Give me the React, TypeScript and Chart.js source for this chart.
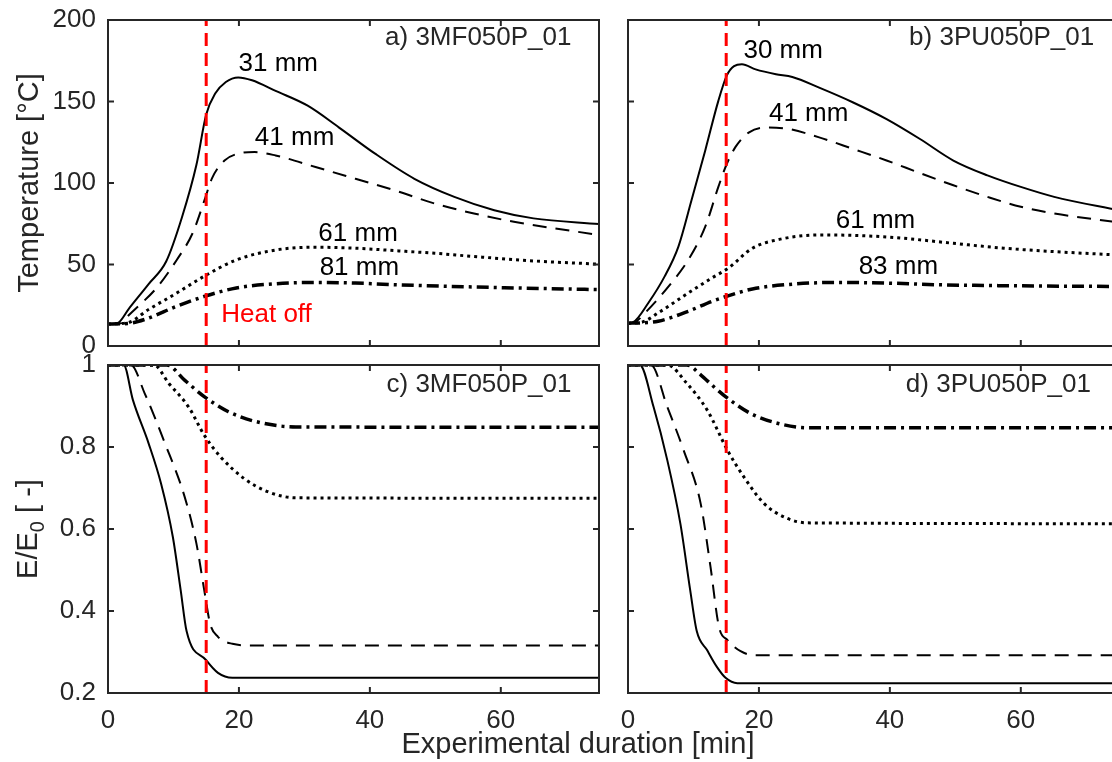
import React, { useEffect, useRef } from "react";
import { Chart, registerables } from "chart.js";

Chart.register(...registerables);

const FONT = "'Liberation Sans', Arial, Helvetica, sans-serif";
const INK = "#262626";
const RED = "#ff0000";
const W = 1130;
const H = 762;
const TICK = 6;
const Y_AXIS_W = 100;
const X_AXIS_H = 60;

// ---------- axes ----------
const X_MAX = 75;
const HEAT_OFF_MIN = 15;
const xTickValues = [0, 20, 40, 60];
const tempTickValues = [0, 50, 100, 150, 200];
const ratioTickValues = [0.2, 0.4, 0.6, 0.8, 1];

// ---------- a) 3MF050P_01 temperature ----------
const aT31 = [0, 1.5, 3.2, 6.2, 8.9, 11.3, 13.5, 15, 16.4, 18, 19.9, 22, 25.6, 30.5, 35.3, 40.8, 46.8, 52.9, 59, 65, 75];
const aV31 = [13.5, 14.2, 23, 38, 52, 79, 111, 142, 155, 162, 164.8, 163, 156.5, 147.4, 134, 118, 102.6, 91.5, 83.3, 78.3, 74.8];
const aT41 = [0, 2, 3.2, 7.5, 10.5, 12.9, 14.7, 15.9, 17.8, 20.2, 22.4, 25.6, 31.7, 37.8, 43.8, 49.9, 55.9, 62, 75];
const aV41 = [13.5, 14, 19, 36, 52.8, 69, 89, 103, 113.8, 118.3, 119, 116.9, 109.8, 102.6, 95.5, 87.4, 81.3, 76.2, 68.1];
const aT61 = [0, 3, 6.2, 10.5, 14.7, 19.6, 25.6, 31.7, 37.8, 43.8, 49.9, 55.9, 65, 75];
const aV61 = [13.5, 14.3, 22.4, 32.5, 42.8, 52.8, 58.9, 60.6, 60, 58.5, 56.9, 54.9, 52.2, 50.2];
const aT81 = [0, 3, 5.6, 10.5, 14.7, 19.6, 25.6, 31.7, 37.8, 43.8, 55.9, 75];
const aV81 = [13.5, 13.8, 16.3, 24.4, 30.4, 35.6, 38.2, 39, 38.6, 37.6, 36.2, 34.6];

// ---------- b) 3PU050P_01 temperature ----------
const bT30 = [0, 0.8, 3.1, 5.6, 7.7, 9.7, 11.8, 13.8, 15.1, 16.2, 17.4, 19.5, 22.6, 25.1, 29.2, 34.4, 39.5, 44.6, 49.7, 54.9, 60, 65.1, 75];
const bV30 = [14, 14.6, 26.4, 42.7, 61, 89.4, 120, 150.4, 166, 171.7, 172.8, 169.7, 166.7, 165, 158.5, 149.4, 139.2, 127, 113.8, 104.7, 97.6, 91.5, 83.2];
const bT41 = [0, 1, 2.6, 6.2, 9.2, 11.8, 13.8, 15.1, 16.4, 18.5, 21.5, 24.6, 29.2, 34.4, 39.5, 44.6, 49.7, 54.9, 60, 65.1, 75];
const bV41 = [14, 14.5, 20.3, 36.6, 52.8, 73.2, 97.6, 111.8, 122, 131.1, 134.1, 133.1, 128, 120.9, 113.8, 106.1, 98.6, 91.5, 85.4, 81.3, 75.8];
const bT61 = [0, 2, 4.6, 9.2, 12.8, 15.4, 19, 23.1, 29.2, 34.4, 42, 49.7, 57.4, 65.1, 75];
const bV61 = [14, 14.5, 20.3, 32.5, 41.7, 48, 60, 65.4, 68.1, 67.9, 66.1, 63, 60, 57.9, 55.8];
const bT83 = [0, 2, 4.6, 9.2, 12.8, 15.4, 19, 24.1, 31.8, 39.5, 47.2, 57.4, 75];
const bV83 = [14, 14.2, 15.2, 21.3, 27.4, 30.9, 35, 37.6, 39, 38.6, 37.6, 37, 36.5];

// ---------- c) 3MF050P_01 E/E0 ----------
const cT31 = [0, 2.4, 3.8, 6.2, 8.1, 9.9, 11.1, 12, 15, 16.8, 19, 75];
const cV31 = [1, 1, 0.915, 0.809, 0.711, 0.581, 0.451, 0.351, 0.28, 0.249, 0.237, 0.237];
const cT41 = [0, 3.5, 5.6, 8.7, 11.7, 13.5, 14.7, 15.6, 16.8, 19, 22, 75];
const cV41 = [1, 1, 0.931, 0.809, 0.679, 0.565, 0.451, 0.369, 0.337, 0.32, 0.316, 0.316];
const cT61 = [0, 7, 9.3, 12.3, 14.7, 17.2, 20.8, 24.4, 28.7, 75];
const cV61 = [1, 1, 0.955, 0.898, 0.829, 0.776, 0.723, 0.691, 0.676, 0.675];
const cT81 = [0, 9, 11.7, 14.7, 18.4, 22.6, 28.7, 75];
const cV81 = [1, 1, 0.963, 0.923, 0.886, 0.862, 0.849, 0.848];

// ---------- d) 3PU050P_01 E/E0 ----------
const dT30 = [0, 1.8, 3.9, 6, 8, 9.5, 10.5, 12.1, 13.6, 14.9, 16.7, 75];
const dV30 = [1, 1, 0.898, 0.768, 0.613, 0.451, 0.351, 0.304, 0.263, 0.237, 0.224, 0.224];
const dT41 = [0, 3.5, 6, 8.5, 11.1, 12.6, 13.9, 15.2, 17.2, 19.2, 75];
const dV41 = [1, 1, 0.898, 0.792, 0.662, 0.508, 0.361, 0.329, 0.302, 0.292, 0.292];
const dT61 = [0, 6, 9, 12.1, 15.2, 17.7, 20.8, 24.3, 27.4, 75];
const dV61 = [1, 1, 0.955, 0.89, 0.792, 0.727, 0.662, 0.626, 0.615, 0.613];
const dT83 = [0, 9, 11.1, 13.1, 15.2, 18.7, 22.8, 27.4, 75];
const dV83 = [1, 1, 0.976, 0.947, 0.919, 0.882, 0.858, 0.847, 0.847];

type LineStyle = "solid" | "dashed" | "dotted" | "dashdot";
type Series = { t: number[]; v: number[]; style: LineStyle };
type Label = { text: string; x: number; y: number; align: CanvasTextAlign; color?: string };
type Panel = {
  series: Series[];
  yMin: number;
  yMax: number;
  yTicks: number[];
  showX: boolean;
  showY: boolean;
  area: { left: number; top: number; right: number; bottom: number };
  labels: Label[];
  extra?: (ctx: CanvasRenderingContext2D) => void;
};

const STYLES: Record<LineStyle, { w: number; dash: number[] }> = {
  solid: { w: 2, dash: [] },
  dashed: { w: 2, dash: [14, 9] },
  dotted: { w: 3, dash: [3, 4] },
  dashdot: { w: 3.5, dash: [12, 5, 3, 5] },
};

const fmt = (v: number) => String(Number(Number(v).toFixed(2)));

function drawTitles(ctx: CanvasRenderingContext2D) {
  ctx.fillStyle = INK;
  // Temperature title
  ctx.save();
  ctx.translate(38, 183);
  ctx.rotate(-Math.PI / 2);
  ctx.font = `29px ${FONT}`;
  ctx.textAlign = "center";
  ctx.textBaseline = "alphabetic";
  ctx.fillText("Temperature [°C]", 0, 0);
  ctx.restore();

  // E/E0 title
  ctx.save();
  ctx.translate(37, 529);
  ctx.rotate(-Math.PI / 2);
  ctx.textAlign = "left";
  ctx.textBaseline = "alphabetic";
  ctx.font = `29px ${FONT}`;
  const w1 = ctx.measureText("E/E").width;
  const w3 = ctx.measureText(" [ -]").width;
  ctx.font = `20px ${FONT}`;
  const w2 = ctx.measureText("0").width;
  const x0 = -(w1 + w2 + w3) / 2;
  ctx.font = `29px ${FONT}`;
  ctx.fillText("E/E", x0, 0);
  ctx.font = `20px ${FONT}`;
  ctx.fillText("0", x0 + w1, 7);
  ctx.font = `29px ${FONT}`;
  ctx.fillText(" [ -]", x0 + w1 + w2, 0);
  ctx.restore();

  // x title
  ctx.save();
  ctx.font = `29px ${FONT}`;
  ctx.textAlign = "center";
  ctx.textBaseline = "middle";
  ctx.fillText("Experimental duration [min]", 578, 745);
  ctx.restore();
}

function overlayPlugin(p: Panel) {
  return {
    id: "overlay",
    afterDatasetsDraw(chart: any) {
      const { ctx, chartArea: ca, scales } = chart;
      const xs = scales.x;
      const ys = scales.y;
      ctx.save();
      ctx.setLineDash([]);
      ctx.strokeStyle = INK;
      ctx.lineWidth = 2;
      ctx.strokeRect(ca.left, ca.top, ca.right - ca.left, ca.bottom - ca.top);
      ctx.beginPath();
      for (const v of xTickValues) {
        const px = xs.getPixelForValue(v);
        ctx.moveTo(px, ca.bottom);
        ctx.lineTo(px, ca.bottom - TICK);
        ctx.moveTo(px, ca.top);
        ctx.lineTo(px, ca.top + TICK);
      }
      for (const v of p.yTicks) {
        const py = ys.getPixelForValue(v);
        ctx.moveTo(ca.left, py);
        ctx.lineTo(ca.left + TICK, py);
        ctx.moveTo(ca.right, py);
        ctx.lineTo(ca.right - TICK, py);
      }
      ctx.stroke();
      ctx.font = `26px ${FONT}`;
      ctx.textBaseline = "middle";
      for (const lb of p.labels) {
        ctx.fillStyle = lb.color || "#000";
        ctx.textAlign = lb.align;
        ctx.fillText(lb.text, xs.getPixelForValue(lb.x), ys.getPixelForValue(lb.y));
      }
      if (p.extra) p.extra(ctx);
      ctx.restore();
    },
  };
}

const fixedFit = (s: any) => {
  if (s.isHorizontal()) s.height = X_AXIS_H;
  else s.width = Y_AXIS_W;
  s.paddingLeft = 0;
  s.paddingRight = 0;
  s.paddingTop = 0;
  s.paddingBottom = 0;
};

function buildChart(canvas: HTMLCanvasElement, p: Panel) {
  const datasets: any[] = [
    {
      data: [
        { x: HEAT_OFF_MIN, y: p.yMin },
        { x: HEAT_OFF_MIN, y: p.yMax },
      ],
      borderColor: RED,
      borderWidth: 3,
      borderDash: [13, 7],
      pointRadius: 0,
      tension: 0,
      fill: false,
    },
    ...p.series.map((s) => ({
      data: s.t.map((t, i) => ({ x: t, y: s.v[i] })),
      borderColor: "#000",
      borderWidth: STYLES[s.style].w,
      borderDash: STYLES[s.style].dash,
      borderCapStyle: "butt",
      borderJoinStyle: "round",
      pointRadius: 0,
      cubicInterpolationMode: "monotone",
      fill: false,
    })),
  ];
  return new Chart(canvas, {
    type: "line",
    data: { datasets },
    options: {
      animation: false,
      responsive: false,
      devicePixelRatio: 1,
      events: [],
      layout: {
        padding: {
          left: p.area.left - Y_AXIS_W,
          top: p.area.top,
          right: W - p.area.right,
          bottom: H - p.area.bottom - X_AXIS_H,
        },
      },
      plugins: {
        legend: { display: false },
        tooltip: { enabled: false },
        title: { display: false },
      },
      scales: {
        x: {
          type: "linear",
          min: 0,
          max: X_MAX,
          grid: { display: false, drawTicks: false },
          border: { display: false },
          afterBuildTicks: (s: any) => {
            s.ticks = xTickValues.map((v) => ({ value: v }));
          },
          afterFit: fixedFit,
          ticks: {
            display: p.showX,
            padding: 12,
            color: INK,
            font: { family: FONT, size: 26 },
            maxRotation: 0,
            autoSkip: false,
            callback: (v: any) => fmt(v),
          },
        },
        y: {
          type: "linear",
          min: p.yMin,
          max: p.yMax,
          grid: { display: false, drawTicks: false },
          border: { display: false },
          afterBuildTicks: (s: any) => {
            s.ticks = p.yTicks.map((v) => ({ value: v }));
          },
          afterFit: fixedFit,
          ticks: {
            display: p.showY,
            padding: 12,
            color: INK,
            font: { family: FONT, size: 26 },
            autoSkip: false,
            callback: (v: any) => fmt(v),
          },
        },
      },
    } as any,
    plugins: [overlayPlugin(p) as any],
  });
}

const LEFT_X = { left: 108, right: 599 };
const RIGHT_X = { left: 628, right: 1119 };
const TOP_Y = { top: 20, bottom: 346 };
const BOT_Y = { top: 365, bottom: 693 };

const panels: Panel[] = [
  {
    series: [
      { t: aT31, v: aV31, style: "solid" },
      { t: aT41, v: aV41, style: "dashed" },
      { t: aT61, v: aV61, style: "dotted" },
      { t: aT81, v: aV81, style: "dashdot" },
    ],
    yMin: 0,
    yMax: 200,
    yTicks: tempTickValues,
    showX: false,
    showY: true,
    area: { ...LEFT_X, ...TOP_Y },
    labels: [
      { text: "31 mm", x: 26, y: 173, align: "center" },
      { text: "41 mm", x: 28.5, y: 128, align: "center" },
      { text: "61 mm", x: 38.2, y: 69, align: "center" },
      { text: "81 mm", x: 38.4, y: 48, align: "center" },
      { text: "Heat off", x: 17.3, y: 19.3, align: "left", color: RED },
      { text: "a) 3MF050P_01", x: 70.8, y: 189, align: "right", color: INK },
    ],
    extra: drawTitles,
  },
  {
    series: [
      { t: bT30, v: bV30, style: "solid" },
      { t: bT41, v: bV41, style: "dashed" },
      { t: bT61, v: bV61, style: "dotted" },
      { t: bT83, v: bV83, style: "dashdot" },
    ],
    yMin: 0,
    yMax: 200,
    yTicks: tempTickValues,
    showX: false,
    showY: false,
    area: { ...RIGHT_X, ...TOP_Y },
    labels: [
      { text: "30 mm", x: 23.7, y: 181, align: "center" },
      { text: "41 mm", x: 27.6, y: 142.7, align: "center" },
      { text: "61 mm", x: 37.8, y: 76.8, align: "center" },
      { text: "83 mm", x: 41.3, y: 48.4, align: "center" },
      { text: "b) 3PU050P_01", x: 71.2, y: 189, align: "right", color: INK },
    ],
  },
  {
    series: [
      { t: cT31, v: cV31, style: "solid" },
      { t: cT41, v: cV41, style: "dashed" },
      { t: cT61, v: cV61, style: "dotted" },
      { t: cT81, v: cV81, style: "dashdot" },
    ],
    yMin: 0.2,
    yMax: 1,
    yTicks: ratioTickValues,
    showX: true,
    showY: true,
    area: { ...LEFT_X, ...BOT_Y },
    labels: [{ text: "c) 3MF050P_01", x: 70.8, y: 0.951, align: "right", color: INK }],
  },
  {
    series: [
      { t: dT30, v: dV30, style: "solid" },
      { t: dT41, v: dV41, style: "dashed" },
      { t: dT61, v: dV61, style: "dotted" },
      { t: dT83, v: dV83, style: "dashdot" },
    ],
    yMin: 0.2,
    yMax: 1,
    yTicks: ratioTickValues,
    showX: true,
    showY: false,
    area: { ...RIGHT_X, ...BOT_Y },
    labels: [{ text: "d) 3PU050P_01", x: 70.7, y: 0.951, align: "right", color: INK }],
  },
];

export default function App() {
  const refs = useRef<(HTMLCanvasElement | null)[]>([]);
  useEffect(() => {
    const charts = panels.map((p, i) => buildChart(refs.current[i] as HTMLCanvasElement, p));
    return () => charts.forEach((c) => c.destroy());
  }, []);
  return (
    <div
      style={{
        position: "fixed",
        left: 0,
        top: 0,
        width: 1112,
        height: 762,
        overflow: "hidden",
        background: "#fff",
      }}
    >
      {panels.map((_, i) => (
        <canvas
          key={i}
          ref={(el) => {
            refs.current[i] = el;
          }}
          width={W}
          height={H}
          style={{ position: "absolute", left: 0, top: 0, width: W, height: H }}
        />
      ))}
    </div>
  );
}
